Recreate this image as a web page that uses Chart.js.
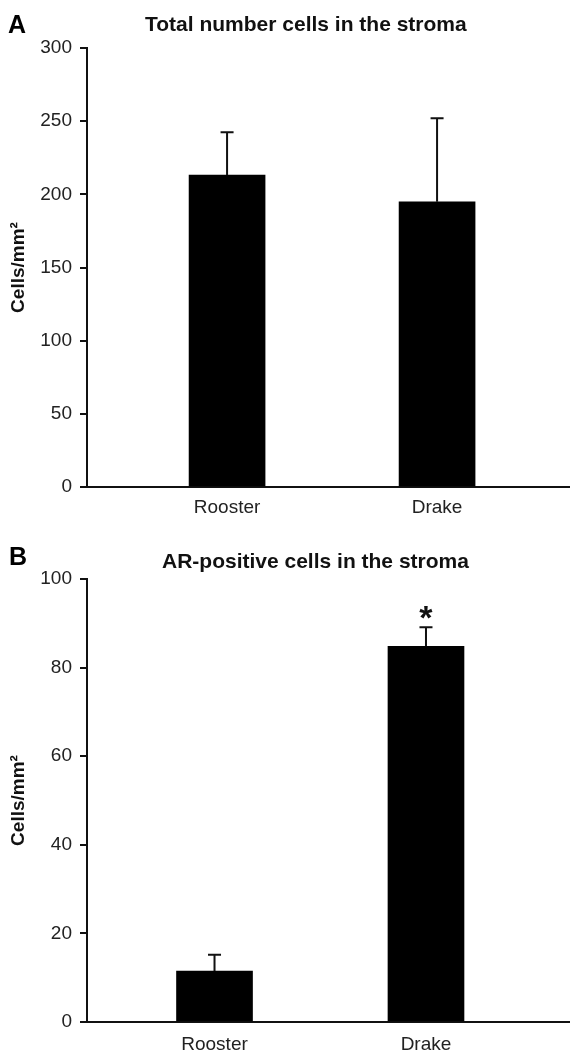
<!DOCTYPE html>
<html><head><meta charset="utf-8">
<script src="https://cdn.jsdelivr.net/npm/chart.js@4.4.1/dist/chart.umd.min.js"></script>
<style>
html,body{margin:0;padding:0;background:#fff;width:570px;height:1051px;overflow:hidden;position:relative;}
.panel{position:absolute;left:0;width:570px;}
.txt{position:absolute;font-family:"Liberation Sans",Arial,sans-serif;font-weight:bold;line-height:1;color:#111;white-space:nowrap;}
</style></head><body>
<div class="panel" style="top:0;height:530px"><canvas id="c1"></canvas></div>
<div class="panel" style="top:525px;height:526px"><canvas id="c2"></canvas></div>
<div class="txt" style="left:8px;top:12px;font-size:25px;color:#000">A</div>
<div class="txt" style="left:9px;top:544px;font-size:25px;color:#000">B</div>
<div class="txt" style="left:145px;top:13px;font-size:21px">Total number cells in the stroma</div>
<div class="txt" style="left:162px;top:550px;font-size:21px">AR-positive cells in the stroma</div>
<script>
// ---- data ----
const categories = ['Rooster', 'Drake'];
const totalMeans = [213.2, 194.9];
const totalErrors = [29.2, 57.1];
const totalTicks = [0, 50, 100, 150, 200, 250, 300];
const arMeans = [11.5, 84.8];
const arErrors = [3.7, 4.3];
const arMarks = ['', '*'];
const arTicks = [0, 20, 40, 60, 80, 100];
const yTitle = 'Cells/mm\u00B2';

Chart.defaults.font.family = '"Liberation Sans", Arial, sans-serif';
Chart.defaults.color = '#222';

const errorBars = {
  id: 'errorBars',
  afterDatasetsDraw(chart, args, opts) {
    const ctx = chart.ctx;
    const ys = chart.scales.y;
    const meta = chart.getDatasetMeta(0);
    const ds = chart.data.datasets[0];
    meta.data.forEach((bar, i) => {
      const v = ds.data[i].y, e = opts.errors[i];
      const yTop = ys.getPixelForValue(v + e);
      const yBar = ys.getPixelForValue(v);
      ctx.save();
      ctx.strokeStyle = '#111';
      ctx.lineWidth = 2;
      ctx.beginPath();
      ctx.moveTo(bar.x, yBar); ctx.lineTo(bar.x, yTop);
      ctx.moveTo(bar.x - 6.5, yTop); ctx.lineTo(bar.x + 6.5, yTop);
      ctx.stroke();
      const m = opts.marks && opts.marks[i];
      if (m) {
        ctx.font = 'bold 34px "Liberation Sans", Arial, sans-serif';
        ctx.fillStyle = '#111';
        ctx.textAlign = 'center';
        ctx.textBaseline = 'alphabetic';
        const mt = ctx.measureText(m);
        const cy = yTop - 15;
        ctx.fillText(m, bar.x, cy + (mt.actualBoundingBoxAscent - mt.actualBoundingBoxDescent) / 2);
      }
      ctx.restore();
    });
  }
};

function makeChart(id, means, errors, marks, ticks, xMin, xMax, padTop, xAxisH, labelPad) {
  return new Chart(document.getElementById(id), {
    type: 'bar',
    data: {
      datasets: [{
        data: categories.map((c, i) => ({x: i, y: means[i]})),
        backgroundColor: '#000',
        borderWidth: 0,
        barThickness: 76
      }]
    },
    options: {
      responsive: true,
      maintainAspectRatio: false,
      animation: false,
      layout: {padding: {top: padTop, left: 0, right: 0, bottom: 0}},
      plugins: {
        legend: {display: false},
        tooltip: {enabled: false},
        title: {display: false},
        errorBars: {errors: errors, marks: marks}
      },
      scales: {
        x: {
          type: 'linear',
          offset: false,
          min: xMin, max: xMax,
          afterBuildTicks: (s) => { s.ticks = categories.map((c, i) => ({value: i})); },
          afterFit: (s) => { s.height = xAxisH; },
          grid: {display: false},
          border: {display: true, color: '#111', width: 2},
          ticks: {
            callback: (v) => categories[v] || '',
            font: {size: 19},
            color: '#222',
            padding: labelPad,
            maxRotation: 0
          }
        },
        y: {
          min: ticks[0], max: ticks[ticks.length - 1],
          afterBuildTicks: (s) => { s.ticks = ticks.map(v => ({value: v})); },
          afterFit: (s) => { s.width = 87; },
          grid: {display: true, drawOnChartArea: false, drawTicks: true, tickLength: 7, color: '#111', lineWidth: 2},
          border: {display: true, color: '#111', width: 2},
          ticks: {font: {size: 19}, color: '#222', padding: 8},
          title: {display: true, text: yTitle, font: {size: 19, weight: 'bold'}, color: '#111', padding: {top: 7, bottom: 0}}
        }
      }
    },
    plugins: [errorBars]
  });
}

makeChart('c1', totalMeans, totalErrors, null, totalTicks, -0.667, 1.633, 48, 43, 1);
makeChart('c2', arMeans, arErrors, arMarks, arTicks, -0.603, 1.681, 54, 29, 3);
</script>
</body></html>
